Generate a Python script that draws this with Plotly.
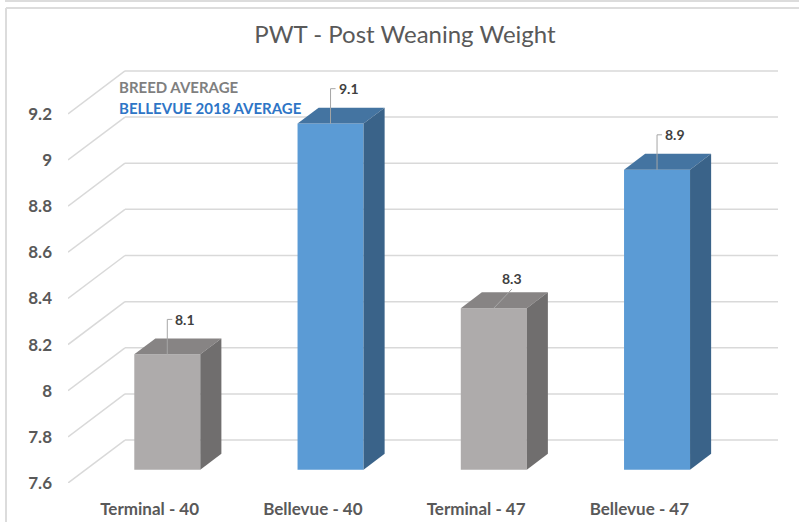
import plotly.graph_objects as go

# ---- data ----
categories = ["Terminal - 40", "Bellevue - 40", "Terminal - 47", "Bellevue - 47"]
values = [8.1, 9.1, 8.3, 8.9]
series = ["BREED AVERAGE", "BELLEVUE 2018 AVERAGE", "BREED AVERAGE", "BELLEVUE 2018 AVERAGE"]
y_ticks = [7.6, 7.8, 8.0, 8.2, 8.4, 8.6, 8.8, 9.0, 9.2]
y_ticktext = ["7.6", "7.8", "8", "8.2", "8.4", "8.6", "8.8", "9", "9.2"]
legend_items = ["BREED AVERAGE", "BELLEVUE 2018 AVERAGE"]

# ---- styling / geometry ----
W, H = 799, 522
PL, PR, PT, PB = 68, 778, 70, 483          # plot area pixel box
X0 = -0.5
PXU = 163.25                               # px per category unit
X1 = X0 + (PR - PL) / PXU
VPP = 0.2 / 46.25                          # value per pixel
Y0 = 7.6
Y1 = Y0 + (PB - PT) * VPP
DX = 57 / PXU                              # depth offset (x units)
DY = 43 * VPP                              # depth offset (value units)
F0, F1 = 0.31, 0.68                        # bar depth fractions
HALF = 33 / PXU                            # half bar width

colors = {
    "BREED AVERAGE": dict(front="#AEABAB", top="#878484", side="#706E6E", text="#7F7F7F"),
    "BELLEVUE 2018 AVERAGE": dict(front="#5B9BD5", top="#4474A1", side="#3A6389", text="#2E75C6"),
}
TXT = "#595959"
GRID = "#D9D9D9"
FONT = "Lato"

fig = go.Figure()

base = Y0 + F0 * DY
bdx, bdy = (F1 - F0) * DX, (F1 - F0) * DY

# front faces
for i, (v, s) in enumerate(zip(values, series)):
    cx = i + F0 * DX
    fig.add_trace(go.Bar(x=[cx], y=[v - Y0], base=[base], width=[2 * HALF],
                         marker=dict(color=colors[s]["front"], line=dict(width=0)),
                         showlegend=False, hoverinfo="skip"))

# top and side faces
for i, (v, s) in enumerate(zip(values, series)):
    cx = i + F0 * DX
    xl, xr = cx - HALF, cx + HALF
    T = v + F0 * DY
    fig.add_trace(go.Scatter(x=[xl, xr, xr + bdx, xl + bdx, xl], y=[T, T, T + bdy, T + bdy, T],
                             fill="toself", fillcolor=colors[s]["top"], mode="lines",
                             line=dict(width=0, color=colors[s]["top"]), showlegend=False, hoverinfo="skip"))
    fig.add_trace(go.Scatter(x=[xr, xr, xr + bdx, xr + bdx, xr], y=[base, T, T + bdy, base + bdy, base],
                             fill="toself", fillcolor=colors[s]["side"], mode="lines",
                             line=dict(width=0, color=colors[s]["side"]), showlegend=False, hoverinfo="skip"))

# data labels with leader lines
label_mode = ["elbow", "elbow", "slant", "elbow"]
for i, v in enumerate(values):
    cx = i + F0 * DX
    T = v + F0 * DY
    if label_mode[i] == "elbow":
        L = 35 * VPP
        e = 5 / PXU
        lx, ly = [cx, cx, cx + e], [T, T + L, T + L]
        fig.add_annotation(x=cx + e + 1 / PXU, y=T + L, text=f"<b>{v:g}</b>", showarrow=False,
                           xanchor="left", yanchor="middle", font=dict(family=FONT, size=14, color="#404040"))
    else:
        ex, ey = cx + 18 / PXU, T + 19 * VPP
        lx, ly = [cx, ex], [T, ey]
        fig.add_annotation(x=ex, y=ey + 11 * VPP, text=f"<b>{v:g}</b>", showarrow=False,
                           xanchor="center", yanchor="middle", font=dict(family=FONT, size=14, color="#404040"))
    fig.add_trace(go.Scatter(x=lx, y=ly, mode="lines", line=dict(color="#A6A6A6", width=1),
                             showlegend=False, hoverinfo="skip"))

# 3D gridlines (front-left diagonal + back wall)
shapes = []
for t in y_ticks:
    shapes.append(dict(type="line", xref="x", yref="y", x0=X0, y0=t, x1=X0 + DX, y1=t + DY,
                       line=dict(color=GRID, width=1.5), layer="below"))
    shapes.append(dict(type="line", xref="x", yref="y", x0=X0 + DX, y0=t + DY, x1=X1, y1=t + DY,
                       line=dict(color=GRID, width=1.5), layer="below"))

# outer chart frame
def px2paper(px, py):
    return (px - PL) / (PR - PL), (PB - py) / (PB - PT)

fx0, fy0 = px2paper(6, 8)
fx1, fy1 = px2paper(W + 5, H + 5)
shapes.append(dict(type="line", xref="paper", yref="paper", x0=fx0, y0=fy0, x1=fx1, y1=fy0,
                   line=dict(color="#DCDCDC", width=2)))
shapes.append(dict(type="line", xref="paper", yref="paper", x0=fx0, y0=fy0, x1=fx0, y1=fy1,
                   line=dict(color="#DCDCDC", width=2)))
gx0, gy0 = px2paper(5, 1)
shapes.append(dict(type="line", xref="paper", yref="paper", x0=gx0, y0=gy0, x1=fx1, y1=gy0,
                   line=dict(color="#DCDCDC", width=2)))

# legend as colored text
for k, name in enumerate(legend_items):
    lx, ly = px2paper(117, 87 + 21 * k)
    fig.add_annotation(xref="paper", yref="paper", x=lx, y=ly, text=f"<b>{name}</b>", showarrow=False,
                       xanchor="left", yanchor="middle",
                       font=dict(family=FONT, size=15, color=colors[name]["text"]))

fig.update_layout(
    width=W, height=H,
    margin=dict(l=PL, r=W - PR, t=PT, b=H - PB, autoexpand=False),
    paper_bgcolor="white", plot_bgcolor="white",
    barmode="overlay",
    showlegend=False,
    shapes=shapes,
    title=dict(text="PWT - Post Weaning Weight", x=405 / W, xanchor="center",
               y=1 - 35 / H, yanchor="middle",
               font=dict(family=FONT, size=24, color=TXT)),
    xaxis=dict(range=[X0, X1], tickvals=list(range(len(categories))), ticktext=[f"<b>{c}</b>" for c in categories],
               showgrid=False, zeroline=False, showline=False, ticks="", automargin=False,
               ticklabelstandoff=14, tickfont=dict(family=FONT, size=17, color=TXT), fixedrange=True),
    yaxis=dict(range=[Y0, Y1 + 0.004], tickvals=y_ticks, ticktext=[f"<b>{t}</b>" for t in y_ticktext],
               showgrid=False, zeroline=False, showline=False, ticks="", automargin=False,
               ticklabelstandoff=15, tickfont=dict(family=FONT, size=17, color=TXT), fixedrange=True),
)

fig.write_html("out.html", config={"displayModeBar": False},
               post_script="document.body.style.margin='0';")
